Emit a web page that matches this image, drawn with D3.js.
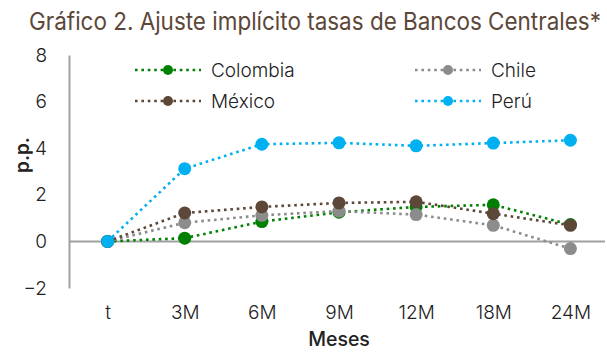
<!DOCTYPE html>
<html>
<head>
<meta charset="utf-8">
<script src="https://cdn.jsdelivr.net/npm/d3@7/dist/d3.min.js"></script>
<style>
  html, body { margin: 0; padding: 0; background: #fff; }
  svg { display: block; }
</style>
</head>
<body>
<svg id="chart" width="607" height="352"></svg>
<script>
// Implied policy-rate adjustment (p.p.) by horizon
const categories = ["t", "3M", "6M", "9M", "12M", "18M", "24M"];
const colombia = [0, 0.14, 0.85, 1.25, 1.48, 1.57, 0.72];
const chile    = [0, 0.80, 1.12, 1.30, 1.15, 0.69, -0.31];
const mexico   = [0, 1.22, 1.48, 1.65, 1.70, 1.19, 0.69];
const peru     = [0, 3.12, 4.17, 4.23, 4.10, 4.22, 4.34];
const yTicks   = [-2, 0, 2, 4, 6, 8];

const series = [
  { name: "Colombia", values: colombia, color: "#008000" },
  { name: "Chile",    values: chile,    color: "#8C8C8C" },
  { name: "México",   values: mexico,   color: "#5C4738" },
  { name: "Perú",     values: peru,     color: "#00B0F0" }
];

const svg = d3.select("#chart");
const plotLeft = 69, plotRight = 609, plotTop = 55, plotBottom = 288;

const x = d3.scalePoint().domain(categories).range([plotLeft, plotRight]).padding(0.5);
const y = d3.scaleLinear().domain([-2, 8]).range([plotBottom, plotTop]);

const baseFont = "'Inter', 'Roboto', 'Liberation Sans', sans-serif";

// Title, condensed horizontally to span the chart width
const title = svg.append("text")
  .attr("fill", "#5C4738")
  .style("font-family", baseFont)
  .style("font-size", "24.5px")
  .style("font-weight", 400)
  .text("Gráfico 2. Ajuste implícito tasas de Bancos Centrales*");
const titleWidth = title.node().getComputedTextLength();
const titleScale = Math.min(1, 572 / titleWidth);
title.attr("transform", `translate(29,30) scale(${titleScale},1)`);

// Y axis
const yAxis = svg.append("g")
  .attr("transform", `translate(${plotLeft},0)`)
  .call(d3.axisLeft(y).tickValues(yTicks).tickSize(0).tickPadding(22).tickFormat(d3.format("d")));
yAxis.select(".domain").attr("stroke", "#A0A0A0").attr("stroke-width", 2);
yAxis.selectAll("text")
  .style("font-family", baseFont).style("font-size", "19px").style("font-weight", 300)
  .attr("fill", "#222");

// Zero baseline
svg.append("line")
  .attr("x1", plotLeft).attr("x2", 605)
  .attr("y1", y(0)).attr("y2", y(0))
  .attr("stroke", "#A0A0A0").attr("stroke-width", 2);

// X tick labels
const xAxis = svg.append("g")
  .attr("transform", `translate(0,${plotBottom})`)
  .call(d3.axisBottom(x).tickSize(0).tickPadding(18));
xAxis.select(".domain").remove();
xAxis.selectAll("text")
  .style("font-family", baseFont).style("font-size", "19px").style("font-weight", 300)
  .attr("fill", "#222");

// Axis titles
svg.append("text")
  .attr("transform", `translate(29,155) rotate(-90)`)
  .attr("text-anchor", "middle")
  .style("font-family", baseFont).style("font-size", "19px").style("font-weight", 600)
  .attr("fill", "#222")
  .text("p.p.");
svg.append("text")
  .attr("x", 339).attr("y", 346)
  .attr("text-anchor", "middle")
  .style("font-family", baseFont).style("font-size", "19.5px").style("font-weight", 500)
  .attr("fill", "#222")
  .text("Meses");

// Series lines and markers
const line = d3.line().x((d, i) => x(categories[i])).y(d => y(d));
series.forEach(s => {
  const g = svg.append("g");
  g.append("path")
    .attr("d", line(s.values))
    .attr("fill", "none")
    .attr("stroke", s.color)
    .attr("stroke-width", 2.6)
    .attr("stroke-dasharray", "2.6,3.8");
  g.selectAll("circle").data(s.values).join("circle")
    .attr("cx", (d, i) => x(categories[i]))
    .attr("cy", d => y(d))
    .attr("r", 6.5)
    .attr("fill", s.color);
});

// Legend
const legendPos = [
  { s: series[0], x: 135, y: 70 },
  { s: series[1], x: 415, y: 70 },
  { s: series[2], x: 135, y: 101 },
  { s: series[3], x: 415, y: 101 }
];
legendPos.forEach(p => {
  const g = svg.append("g").attr("transform", `translate(${p.x},${p.y})`);
  g.append("line")
    .attr("x1", 0).attr("x2", 66).attr("y1", 0).attr("y2", 0)
    .attr("stroke", p.s.color).attr("stroke-width", 2.6)
    .attr("stroke-dasharray", "2.6,3.8");
  g.append("circle").attr("cx", 33).attr("cy", 0).attr("r", 5).attr("fill", p.s.color);
  g.append("text")
    .attr("x", 76).attr("y", 7)
    .style("font-family", baseFont).style("font-size", "19px").style("font-weight", 300)
    .attr("fill", "#222")
    .text(p.s.name);
});
</script>
</body>
</html>
